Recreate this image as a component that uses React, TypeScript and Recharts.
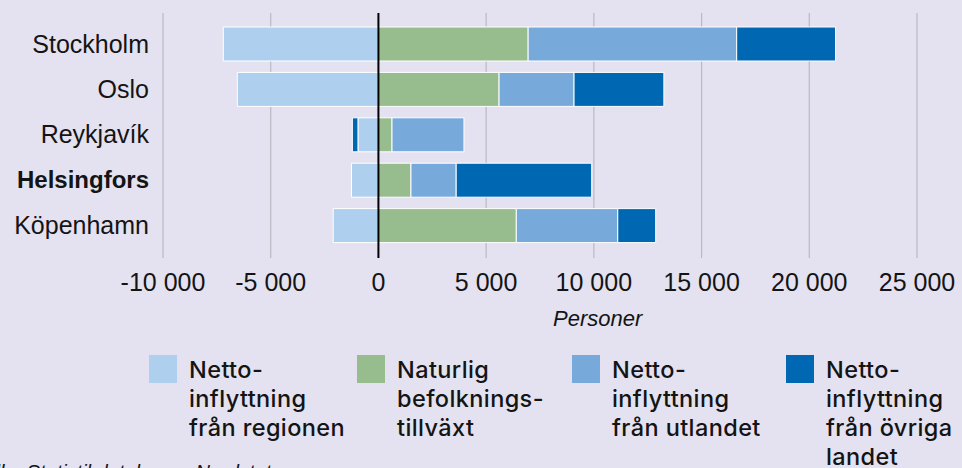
import React from "react";
import { BarChart, Bar, XAxis, YAxis, CartesianGrid, ReferenceLine } from "recharts";

// values (persons)
const cities = ["Stockholm", "Oslo", "Reykjavík", "Helsingfors", "Köpenhamn"];
const fromRegion = [-7200, -6550, -950, -1250, -2100];
const naturalGrowth = [6950, 5600, 630, 1510, 6400];
const fromAbroad = [9680, 3480, 3340, 2100, 4710];
const fromRestOfCountry = [4590, 4170, -260, 6290, 1760];
const xTicks = [-10000, -5000, 0, 5000, 10000, 15000, 20000, 25000];

const seriesKeys = ["region", "natural", "abroad", "rest"];
const seriesColors = ["#aecfee", "#97bc8e", "#78a9db", "#0068b3"];
const seriesLabels = [
  "Netto-\ninflyttning\nfrån regionen",
  "Naturlig\nbefolknings-\ntillväxt",
  "Netto-\ninflyttning\nfrån utlandet",
  "Netto-\ninflyttning\nfrån övriga\nlandet",
];
const highlightCity = "Helsingfors";

const data = cities.map((city, i) => ({
  city,
  region: fromRegion[i],
  natural: naturalGrowth[i],
  abroad: fromAbroad[i],
  rest: fromRestOfCountry[i],
}));

const BG = "#e4e2f0";
const TEXT = "#141414";
const AXIS_FONT = "'Liberation Sans', Arial, sans-serif";
const LEGEND_FONT = "Inter, 'Liberation Sans', sans-serif";

const fmt = (v: number) => {
  const s = String(Math.abs(v)).replace(/\B(?=(\d{3})+(?!\d))/g, " ");
  return v < 0 ? "-" + s : s;
};

const CityTick = ({ x, y, payload }: any) => {
  const bold = payload.value === highlightCity;
  return (
    <text
      x={x}
      y={y}
      dy="0.355em"
      textAnchor="end"
      fill={TEXT}
      fontSize={bold ? 24 : 25}
      fontFamily={AXIS_FONT}
      fontWeight={bold ? 700 : 400}
    >
      {payload.value}
    </text>
  );
};

export default function App() {
  return (
    <div
      style={{
        position: "fixed",
        left: 0,
        top: 0,
        width: 962,
        height: 468,
        background: BG,
        overflow: "hidden",
      }}
    >
      <BarChart
        width={962}
        height={468}
        data={data}
        layout="vertical"
        stackOffset="sign"
        barSize={34}
        margin={{ top: 13, right: 45, left: 0, bottom: 180 }}
      >
        <CartesianGrid horizontal={false} stroke="#b9b8c3" strokeWidth={1.2} />
        <XAxis
          type="number"
          domain={[-10000, 25000]}
          ticks={xTicks}
          interval={0}
          tickFormatter={fmt}
          axisLine={false}
          tickLine={false}
          tickSize={0}
          tickMargin={15}
          height={30}
          tick={{ fontSize: 25, fill: TEXT, fontFamily: AXIS_FONT }}
        />
        <YAxis
          type="category"
          dataKey="city"
          width={163}
          axisLine={false}
          tickLine={false}
          tickSize={0}
          tickMargin={14}
          padding={{ top: 8, bottom: 10 }}
          tick={<CityTick />}
          interval={0}
        />
        {seriesKeys.map((k, i) => (
          <Bar
            key={k}
            dataKey={k}
            stackId="a"
            fill={seriesColors[i]}
            stroke="#ffffff"
            strokeWidth={1}
            isAnimationActive={false}
          />
        ))}
        <ReferenceLine x={0} stroke="#000" strokeWidth={2} />
      </BarChart>

      <div
        style={{
          position: "absolute",
          left: 553,
          top: 308,
          fontFamily: AXIS_FONT,
          fontStyle: "italic",
          fontSize: 22,
          lineHeight: "22px",
          color: TEXT,
        }}
      >
        Personer
      </div>

      {seriesLabels.map((label, i) => {
        const left = [149, 357, 572, 786][i];
        return (
          <div key={label} style={{ position: "absolute", left, top: 355 }}>
            <div style={{ width: 28, height: 28, background: seriesColors[i] }} />
            <div
              style={{
                position: "absolute",
                left: 40,
                top: 0,
                whiteSpace: "pre",
                fontFamily: LEGEND_FONT,
                fontWeight: 500,
                fontSize: 23.5,
                letterSpacing: 0.4,
                lineHeight: "29px",
                color: TEXT,
              }}
            >
              {label}
            </div>
          </div>
        );
      })}

      <div
        style={{
          position: "absolute",
          left: -29,
          top: 462,
          whiteSpace: "nowrap",
          fontFamily: AXIS_FONT,
          fontStyle: "italic",
          fontSize: 20,
          lineHeight: "20px",
          color: TEXT,
        }}
      >
        Källa: Statistikdatabaser, Nordstat
      </div>
    </div>
  );
}
